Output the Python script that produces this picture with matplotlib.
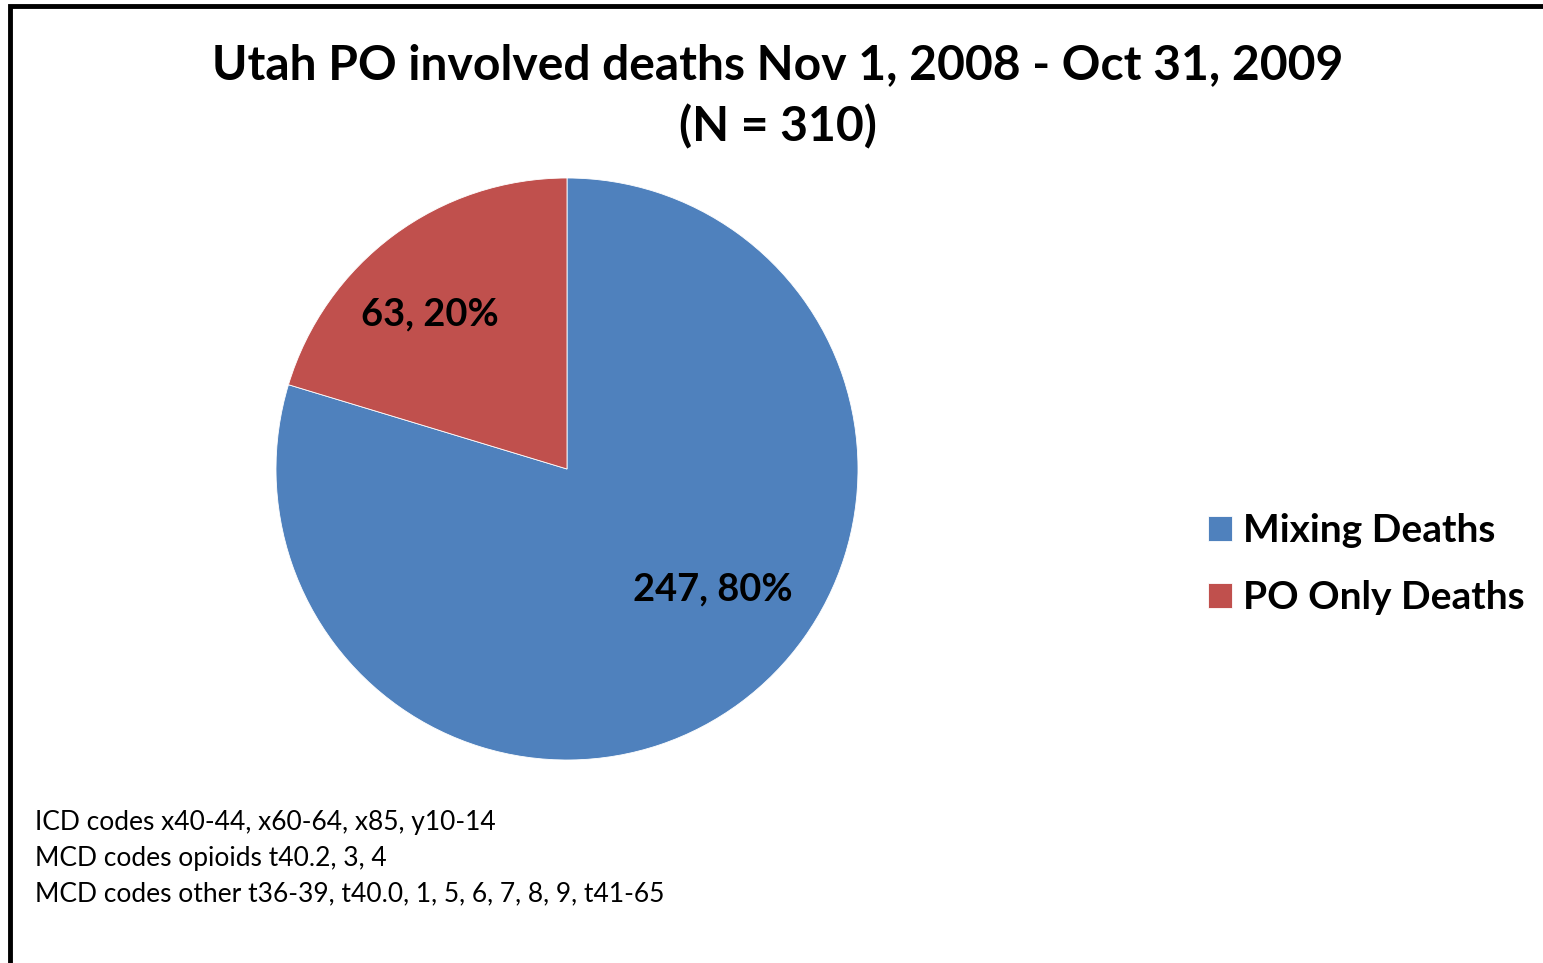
import matplotlib
matplotlib.use("Agg")
import matplotlib.pyplot as plt
from matplotlib.patches import Rectangle

# Data
categories = ['Mixing Deaths', 'PO Only Deaths']
deaths = [247, 63]
colors = ['#4F81BD', '#C0504D']
title = 'Utah PO involved deaths Nov 1, 2008 - Oct 31, 2009\n(N = 310)'
notes = ['ICD codes x40-44, x60-64, x85, y10-14',
         'MCD codes opioids t40.2, 3, 4',
         'MCD codes other t36-39, t40.0, 1, 5, 6, 7, 8, 9, t41-65']

plt.rcParams['font.family'] = ['Lato', 'DejaVu Sans']

W, H = 1543, 963
fig = plt.figure(figsize=(W / 100, H / 100), dpi=100)

# Frame line round the chart (right/bottom edges fall outside the picture)
fig.patches.append(Rectangle((10 / W, -0.1), 1.2, 1.1 - 6 / H, transform=fig.transFigure,
                             fill=False, edgecolor='black', linewidth=3.5))

# Pie axes: centre (567, 469) px, radius 291 px
cx, cy, r = 567, 469, 291
ax = fig.add_axes([(cx - r) / W, (H - cy - r) / H, 2 * r / W, 2 * r / H])

total = sum(deaths)
def fmt(pct):
    return f'{round(pct * total / 100)}, {pct:.0f}%'

wedges, texts, autotexts = ax.pie(deaths, colors=colors, startangle=90, counterclock=False,
                                  autopct=fmt, pctdistance=0.68,
                                  wedgeprops=dict(edgecolor='white', linewidth=0.6),
                                  textprops=dict(fontsize=27.4, fontweight='bold', color='black'))
ax.set_xlim(-1, 1)
ax.set_ylim(-1, 1)
ax.set_aspect('equal')

# Excel "best fit" label spots
autotexts[0].set_position((0.50, -0.415))
autotexts[1].set_position((-0.47, 0.53))

fig.text(778 / W, 1 - 96 / H, title, ha='center', va='center', fontsize=34.6,
         fontweight='bold', linespacing=1.45)

fig.legend(wedges, categories, loc='center left', bbox_to_anchor=(1189 / W, 1 - 564 / H),
           frameon=False, prop=dict(size=28, weight='bold'), borderpad=0,
           handlelength=0.6, handleheight=0.6, handletextpad=0.28, labelspacing=0.83)

for i, line in enumerate(notes):
    fig.text(35 / W, 1 - (822 + 36 * i) / H, line, ha='left', va='center', fontsize=19)

fig.savefig('out.png', dpi=100)
